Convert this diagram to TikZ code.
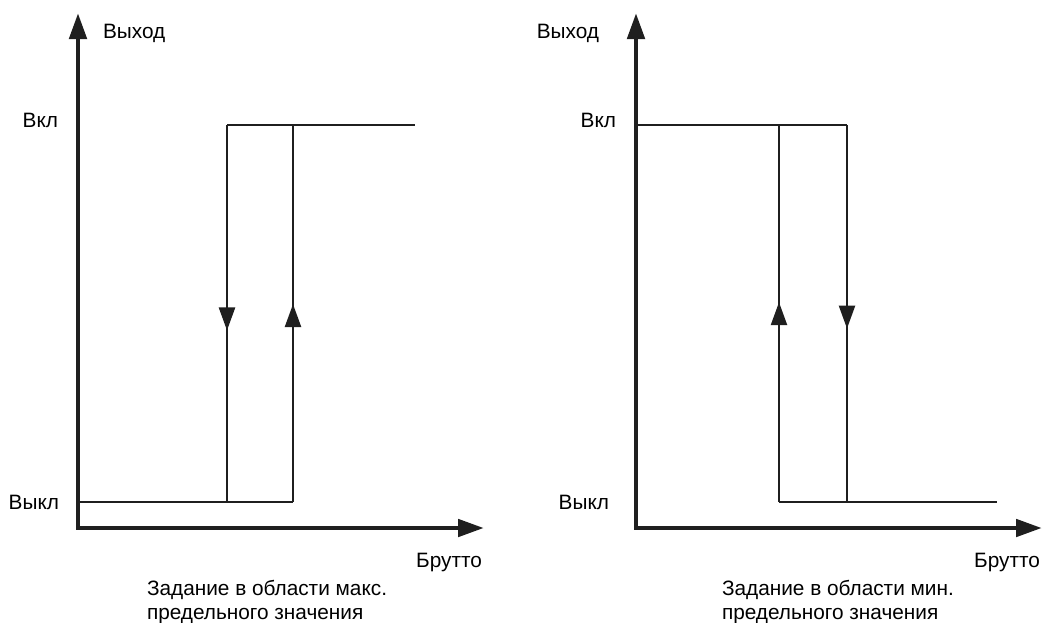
\documentclass[tikz,border=0pt]{standalone}
\usepackage{fontspec}
\setmainfont{Liberation Sans}
\usetikzlibrary{arrows.meta,decorations.markings}
\definecolor{inkgray}{rgb}{0.12, 0.12, 0.12}

\begin{document}
\begin{tikzpicture}[x=1pt,y=-1pt]
  \tikzset{AxisStyle/.style = {
    draw          = inkgray,
    line width    = 4.8pt,
    line join     = miter,
    arrows        = {Triangle[length=26pt,width=17pt]-Triangle[length=26pt,width=17pt]}
    }
  }
  \tikzset{LoopStyle/.style = {
    draw          = inkgray,
    line width    = 2.4pt
    }
  }
  \tikzset{MidArrow/.style = {
    postaction    = {decorate},
    decoration    = {markings,
      mark = at position #1 with {\arrow{Triangle[length=23pt,width=16pt]}}}
    }
  }
  \tikzset{LabelStyle/.style = {
    inner sep     = 0pt,
    outer sep     = 0pt,
    text          = black,
    font          = \fontsize{20.8}{24}\selectfont
    }
  }
  \useasboundingbox (0,0) rectangle (1045,622);

	% left graph
	\coordinate (YL) at (78, 13);
	\coordinate (XL) at (484, 528);
	\coordinate (LB0) at (80, 502);
	\coordinate (LB1) at (227, 502);
	\coordinate (LB2) at (293, 502);
	\coordinate (LT1) at (227, 125);
	\coordinate (LT2) at (293, 125);
	\coordinate (LT3) at (415, 125);
	\draw[AxisStyle] (YL) |- (XL);
	\draw[LoopStyle] (LB0) -- (LB2);
	\draw[LoopStyle] (LT1) -- (LT3);
	\draw[LoopStyle,MidArrow=0.545] (LT1) -- (LB1);
	\draw[LoopStyle,MidArrow=0.525] (LB2) -- (LT2);
	\node[LabelStyle,anchor=base west](OutL) at (103, 38) {Выход};
	\node[LabelStyle,anchor=base east](OnL) at (58, 127) {Вкл};
	\node[LabelStyle,anchor=base east](OffL) at (59, 509) {Выкл};
	\node[LabelStyle,anchor=base east](GrossL) at (482, 567) {Брутто};
	\node[LabelStyle,anchor=north west,align=left](CapL) at (147, 580)
		{Задание в области макс.\\предельного значения};

	% right graph
	\coordinate (YR) at (636, 13);
	\coordinate (XR) at (1042, 528);
	\coordinate (RT0) at (638, 125);
	\coordinate (RT1) at (779, 125);
	\coordinate (RT2) at (847, 125);
	\coordinate (RB1) at (779, 502);
	\coordinate (RB2) at (847, 502);
	\coordinate (RB3) at (997, 502);
	\draw[AxisStyle] (YR) |- (XR);
	\draw[LoopStyle] (RT0) -- (RT2);
	\draw[LoopStyle] (RB1) -- (RB3);
	\draw[LoopStyle,MidArrow=0.53] (RB1) -- (RT1);
	\draw[LoopStyle,MidArrow=0.54] (RT2) -- (RB2);
	\node[LabelStyle,anchor=base east](OutR) at (599, 38) {Выход};
	\node[LabelStyle,anchor=base east](OnR) at (616, 127) {Вкл};
	\node[LabelStyle,anchor=base east](OffR) at (609, 509) {Выкл};
	\node[LabelStyle,anchor=base east](GrossR) at (1040, 567) {Брутто};
	\node[LabelStyle,anchor=north west,align=left](CapR) at (722, 580)
		{Задание в области мин.\\предельного значения};

\end{tikzpicture}
\end{document}
